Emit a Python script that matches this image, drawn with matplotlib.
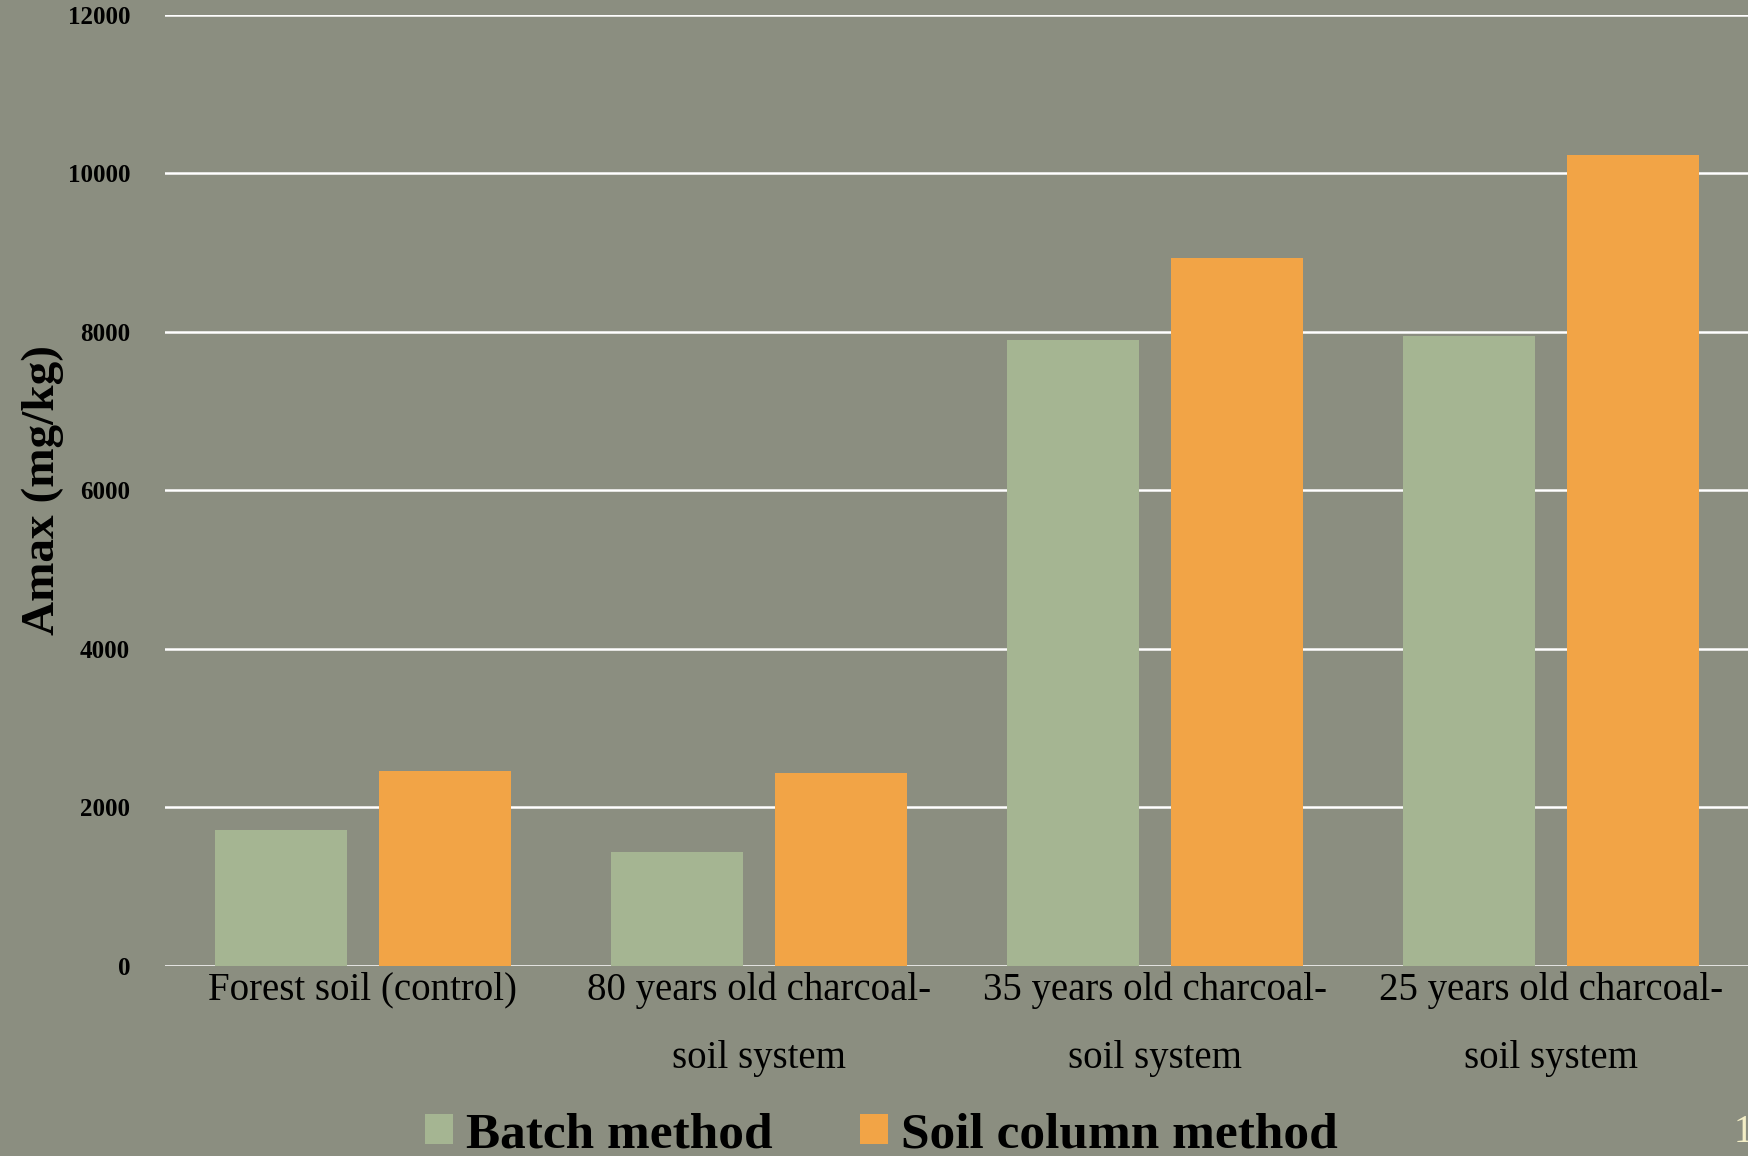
import numpy as np
import matplotlib.pyplot as plt

# data to plot
categories = ['Forest soil (control)',
              '80 years old charcoal-\nsoil system',
              '35 years old charcoal-\nsoil system',
              '25 years old charcoal-\nsoil system']
batch = [1720, 1440, 7900, 7940]
column = [2460, 2435, 8930, 10230]
yticks = [0, 2000, 4000, 6000, 8000, 10000, 12000]

bg = '#8b8e80'
green = '#a5b592'
orange = '#f2a446'
serif = ['Liberation Serif', 'DejaVu Serif']

fig = plt.figure(figsize=(17.49, 11.56), dpi=100, facecolor=bg)
ax = fig.add_axes([0.0943, 0.1644, 0.9057, 0.823])
ax.set_facecolor(bg)

index = np.arange(len(categories))
bar_width = 0.333
offset = 0.208

ax.bar(index - offset, batch, bar_width, color=green, label='Batch method', zorder=3)
ax.bar(index + offset, column, bar_width, color=orange, label='Soil column method', zorder=3)

ax.set_xlim(-0.5, 3.5)
ax.set_ylim(0, 12000)
ax.set_yticks(yticks)
ax.set_yticklabels([str(v) for v in yticks], family=serif, fontsize=18,
                   fontweight='bold', color='black')
ax.set_xticks(index)
ax.set_xticklabels(categories, family=serif, fontsize=28, color='black',
                   linespacing=2.1)
ax.tick_params(axis='both', length=0)
ax.tick_params(axis='y', pad=25)
ax.tick_params(axis='x', pad=4)
ax.yaxis.grid(True, color='white', linewidth=1.8, zorder=1)
ax.set_axisbelow(True)
for s in ax.spines.values():
    s.set_visible(False)

ax.set_ylabel('Amax (mg/kg)', family=serif, fontsize=34, fontweight='bold',
              color='black')
ax.yaxis.set_label_coords(-0.064, 0.5)

leg = fig.legend(loc='center', bbox_to_anchor=(0.504, 0.018), ncol=2,
                 frameon=False, handlelength=0.55, handleheight=0.55,
                 handletextpad=0.25, columnspacing=1.7, borderpad=0,
                 prop={'family': serif, 'size': 37, 'weight': 'bold'})

fig.text(1734 / 1749, 0.004, '11', family=serif, fontsize=28,
         color='#f3eec6', ha='left', va='bottom')

fig.savefig('out.png', dpi=100, facecolor=bg)
